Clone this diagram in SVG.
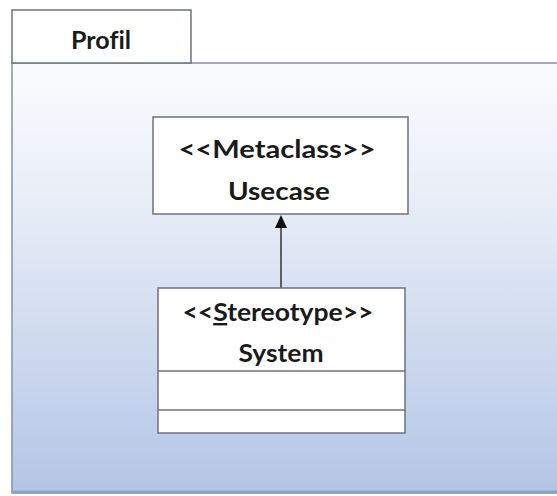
<svg xmlns="http://www.w3.org/2000/svg" width="557" height="496" viewBox="0 0 557 496">
<defs>
<linearGradient id="bg" x1="0" y1="0" x2="0" y2="1">
<stop offset="0" stop-color="#fbfcfe"/>
<stop offset="0.35" stop-color="#e6ecf6"/>
<stop offset="1" stop-color="#b3c5e6"/>
</linearGradient>
<style>
.box{fill:#ffffff;stroke:#6b7280;stroke-width:1.5}
.t{font-family:Lato,"Open Sans","Liberation Sans",sans-serif;font-weight:700;font-size:24px;fill:#1a1a1a;text-anchor:middle;font-variant-ligatures:none}
.sep{stroke:#6b7280;stroke-width:1.5}
</style>
</defs>
<rect width="557" height="496" fill="#ffffff"/>
<g id="package">
<rect x="12" y="63" width="546" height="430" fill="url(#bg)" stroke="#8391aa" stroke-width="1.5"/>
<line x1="12" y1="492" x2="557" y2="492" stroke="#8fa0c4" stroke-width="3"/>
<rect x="12" y="10" width="179" height="53" fill="#ffffff" stroke="#6b7280" stroke-width="1.5"/>
<text class="t" x="101" y="49" font-size="21" textLength="60" lengthAdjust="spacingAndGlyphs">Profil</text>
</g>
<g id="connectors">
<line x1="281" y1="288" x2="281" y2="226" stroke="#333" stroke-width="1.5"/>
<path d="M281,215 L275,228 L287,228 Z" fill="#111"/>
</g>
<g id="usecase">
<rect class="box" x="153" y="117" width="255" height="97"/>
<text class="t" x="277" y="158" font-size="25" textLength="197" lengthAdjust="spacingAndGlyphs">&lt;&lt;Metaclass&gt;&gt;</text>
<text class="t" x="279" y="200" font-size="25" textLength="102" lengthAdjust="spacingAndGlyphs">Usecase</text>
</g>
<g id="system">
<rect class="box" x="158" y="288" width="247" height="145"/>
<line class="sep" x1="158" y1="371" x2="405" y2="371"/>
<line class="sep" x1="158" y1="410" x2="405" y2="410"/>
<text class="t" x="278" y="321" font-size="25" textLength="191" lengthAdjust="spacingAndGlyphs">&lt;&lt;<tspan text-decoration="underline">S</tspan>tereotype&gt;&gt;</text>
<text class="t" x="281" y="362" font-size="25" textLength="85" lengthAdjust="spacingAndGlyphs">System</text>
</g>
</svg>
